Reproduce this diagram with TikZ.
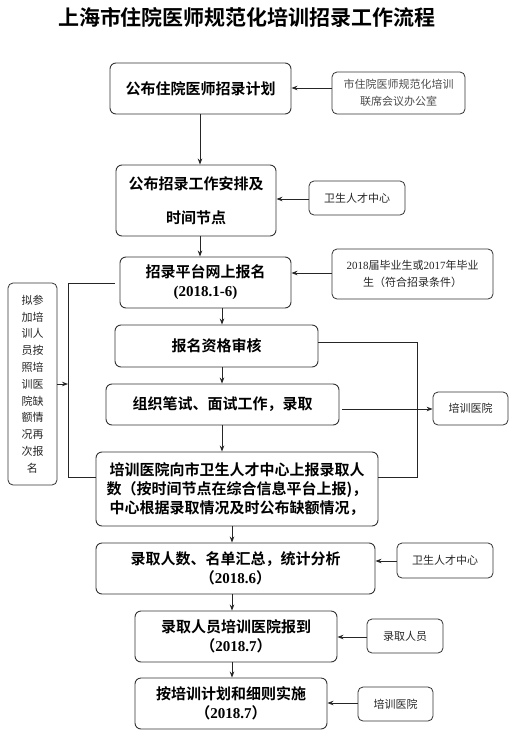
\documentclass[tikz,border=0pt]{standalone}
\usepackage{fontspec}
\setmainfont{Liberation Serif}
\newfontfamily\cjk{Noto Sans CJK SC}[BoldFont={Noto Sans CJK SC Bold}]
\newfontfamily\lat{Liberation Serif}
\newcommand\dg[1]{{\lat #1}}
\usetikzlibrary{arrows.meta}
\tikzset{
  mainbox/.style={draw=black!80, line width=0.9pt, rounded corners=6pt, inner sep=0pt, align=center,
    font=\cjk\bfseries\fontsize{15}{19}\selectfont},
  sidebox/.style={draw=black!80, line width=0.8pt, rounded corners=5pt, inner sep=0pt, align=center,
    text=black!85, font=\cjk\fontsize{11}{16.5}\selectfont},
  arr/.style={draw=black!85, line width=0.8pt, -{Stealth[length=6pt,width=4.5pt]}},
  conn/.style={draw=black!85, line width=0.8pt},
}
\begin{document}
\begin{tikzpicture}[x=1pt,y=-1pt]
\useasboundingbox[fill=white] (0,0) rectangle (514,737);
\node[font=\cjk\bfseries\fontsize{21}{21}\selectfont] (title) at (247,17) {上海市住院医师规范化培训招录工作流程};

% main boxes
\node[mainbox, minimum width=181pt, minimum height=51pt] (b1) at (200.5,88.5) {公布住院医师招录计划};
\node[mainbox, minimum width=160pt, minimum height=71pt] (b2) at (196,200.5) {公布招录工作安排及\\[15pt]时间节点};
\node[mainbox, minimum width=171pt, minimum height=51pt] (b3) at (205.5,282.5) {招录平台网上报名\\\dg{(2018.1-6)}};
\node[mainbox, minimum width=203pt, minimum height=42pt] (b4) at (216.5,346) {报名资格审核};
\node[mainbox, minimum width=233pt, minimum height=41pt] (b5) at (222.5,404.5) {组织笔试、面试工作，录取};
\node[mainbox, minimum width=282pt, minimum height=74pt] (b6) at (237,489) {培训医院向市卫生人才中心上报录取人\\数（按时间节点在综合信息平台上报)，\\中心根据录取情况及时公布缺额情况，};
\node[mainbox, minimum width=279pt, minimum height=51pt] (b7) at (235.5,568.5) {录取人数、名单汇总，统计分析\\（\dg{2018.6}）};
\node[mainbox, minimum width=202pt, minimum height=51pt] (b8) at (236,636.5) {录取人员培训医院报到\\（\dg{2018.7}）};
\node[mainbox, minimum width=192pt, minimum height=51pt] (b9) at (231,703.5) {按培训计划和细则实施\\（\dg{2018.7}）};

% side boxes
\node[sidebox, minimum width=133pt, minimum height=42pt, text=black!70] (sA) at (398.5,93) {市住院医师规范化培训\\联席会议办公室};
\node[sidebox, minimum width=96pt, minimum height=34pt] (sB) at (357,198) {卫生人才中心};
\node[sidebox, minimum width=161pt, minimum height=50pt] (sC) at (412.5,274) {\dg{2018}届毕业生或\dg{2017}年毕业\\生（符合招录条件）};
\node[sidebox, minimum width=75pt, minimum height=33pt] (sD) at (470.5,408.5) {培训医院};
\node[sidebox, minimum width=49pt, minimum height=202pt, font=\cjk\fontsize{11}{16.8}\selectfont] (sE) at (32.5,384) {拟参\\加培\\训人\\员按\\照培\\训医\\院缺\\额情\\况再\\次报\\名};
\node[sidebox, minimum width=96pt, minimum height=35pt] (sF) at (445,560.5) {卫生人才中心};
\node[sidebox, minimum width=76pt, minimum height=34pt] (sG) at (405,636) {录取人员};
\node[sidebox, minimum width=75pt, minimum height=34pt] (sH) at (395.5,704) {培训医院};

% vertical flow arrows
\draw[arr] (200,0 |- b1.south) -- (200,0 |- b2.north);
\draw[arr] (200,0 |- b2.south) -- (200,0 |- b3.north);
\draw[arr] (222,0 |- b3.south) -- (222,0 |- b4.north);
\draw[arr] (222,0 |- b4.south) -- (222,0 |- b5.north);
\draw[arr] (222,0 |- b5.south) -- (222,0 |- b6.north);
\draw[arr] (232,0 |- b6.south) -- (232,0 |- b7.north);
\draw[arr] (232,0 |- b7.south) -- (232,0 |- b8.north);
\draw[arr] (232,0 |- b8.south) -- (232,0 |- b9.north);

% side arrows
\draw[arr] (sA.west |- 0,88) -- (b1.east |- 0,88);
\draw[arr] (sB.west |- 0,199) -- (b2.east |- 0,199);
\draw[arr] (sC.west |- 0,273) -- (b3.east |- 0,273);
\draw[arr] ([xshift=3pt]b5.east |- 0,409) -- (sD.west |- 0,409);
\draw[arr] (sF.west |- 0,561) -- (b7.east |- 0,561);
\draw[arr] (sG.west |- 0,637) -- (b8.east |- 0,637);
\draw[arr] (sH.west |- 0,703) -- (b9.east |- 0,703);

% loops
\draw[conn] (b4.east |- 0,342) -- (417,342) -- (417,477) -- (b6.east |- 0,477);
\coordinate (lj) at (68,384);
\draw[conn, shorten >=5pt] (b6.west |- 0,477) -- (68,477) -- (68,283) -- (b3.west |- 0,283);
\draw[arr] (sE.east |- lj) -- (lj);
\end{tikzpicture}
\end{document}
